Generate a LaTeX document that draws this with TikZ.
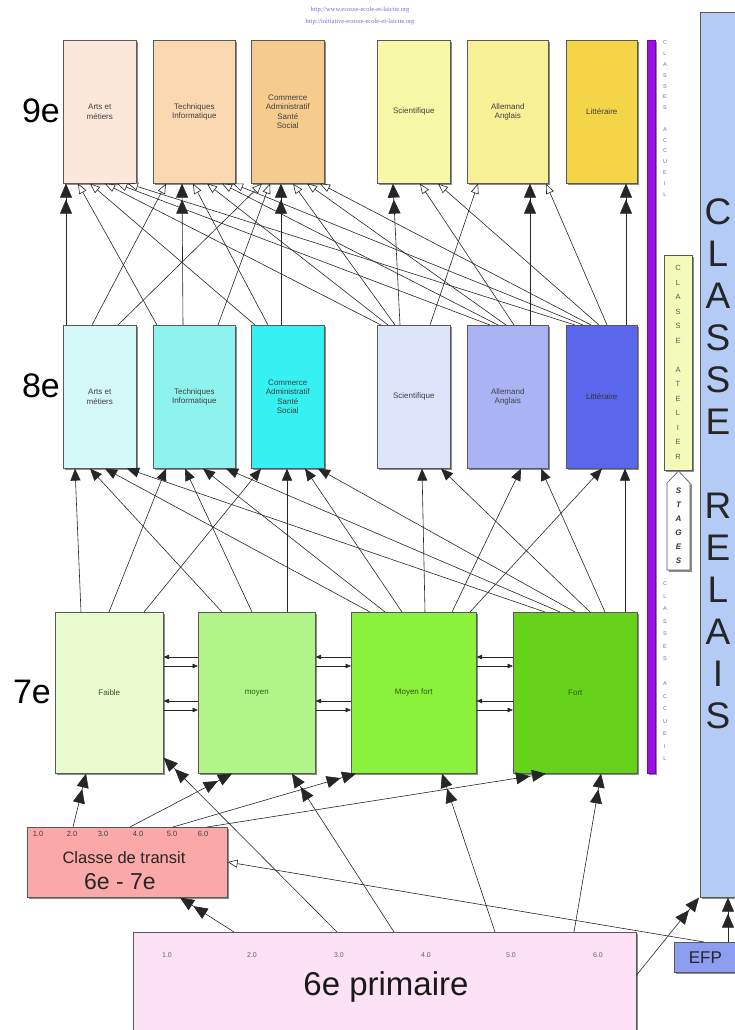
\documentclass[tikz,border=0pt]{standalone}
\usepackage{fontspec}
\setmainfont{Liberation Sans}
\newfontfamily\urlfont{Liberation Serif}
\usetikzlibrary{arrows.meta,calc,shadows}
\definecolor{cA9}{HTML}{FCE8DA}
\definecolor{cT9}{HTML}{FBD9B0}
\definecolor{cC9}{HTML}{F6CB8E}
\definecolor{cS9}{HTML}{F7F9A6}
\definecolor{cL9}{HTML}{F8F095}
\definecolor{cLi9}{HTML}{F4D547}
\definecolor{cA8}{HTML}{D5F8F8}
\definecolor{cT8}{HTML}{8EF2EE}
\definecolor{cC8}{HTML}{35F1F1}
\definecolor{cS8}{HTML}{DCE5F9}
\definecolor{cL8}{HTML}{AAB4F4}
\definecolor{cLi8}{HTML}{5A66EC}
\definecolor{cFa}{HTML}{EAFBD0}
\definecolor{cMo}{HTML}{B1F58A}
\definecolor{cMF}{HTML}{8BF23C}
\definecolor{cFo}{HTML}{66D31A}
\definecolor{cTr}{HTML}{FBA8A8}
\definecolor{cP6}{HTML}{FDE2F6}
\definecolor{cEFP}{HTML}{8D9EF1}
\definecolor{cRel}{HTML}{B4CBF5}
\definecolor{cAt}{HTML}{F4FABA}
\definecolor{cPur}{HTML}{9A10E6}
\definecolor{cGreenTxt}{HTML}{2E5A12}
\definecolor{cUrl}{HTML}{6E6ED8}
\begin{document}
\begin{tikzpicture}[x=1pt,y=-1pt,
  every node/.style={inner sep=0pt},
  box/.style={draw=black!65, line width=0.6pt, anchor=north west, align=center,
    font=\fontsize{8}{9.2}\selectfont, text=black!75,
    drop shadow={shadow xshift=1.8pt, shadow yshift=-1.8pt, opacity=0.45, fill=black}},
  wh/.style 2 args={minimum width=#1pt, minimum height=#2pt},
  conn/.style={draw=black!85, line width=0.6pt},
  dbl/.style={conn, -{Triangle[length=14pt,width=12pt,sep=2pt]Triangle[length=14pt,width=12pt]}},
  sgl/.style={conn, -{Triangle[length=12pt,width=10pt]}},
  opn/.style={conn, -{Triangle[open,fill=white,length=10pt,width=8pt]}},
  sml/.style={conn, -{Triangle[length=5.5pt,width=4.5pt]}},
  rowlab/.style={font=\fontsize{34}{34}\selectfont},
  tinylet/.style={font=\fontsize{5.5}{5.5}\selectfont, text=black!55},
  atlet/.style={font=\fontsize{7.5}{7.5}\selectfont, text=black!65},
  stlet/.style={font=\fontsize{8}{8}\selectfont\bfseries\itshape, text=black!80},
  numlab/.style={font=\fontsize{7}{7}\selectfont, text=black!60},
  bignum/.style={font=\fontsize{7.5}{7.5}\selectfont, text=black!75},
  rellet/.style={font=\fontsize{37}{37}\selectfont, text=black!85},
  urlsty/.style={font=\urlfont\fontsize{6.5}{6.5}\selectfont, text=cUrl},
]
\useasboundingbox (0,0) rectangle (735,1030);
\clip (0,0) rectangle (735,1030);

% URLs
\node[urlsty] (url1) at (360,10) {http://www.ecosse-ecole-et-laicite.org};
\node[urlsty] (url2) at (360,22) {http://initiative-ecosse-ecole-et-laicite.org};

% row labels
\node[rowlab] (r9) at (41,111) {9e};
\node[rowlab] (r8) at (41,386) {8e};
\node[rowlab] (r7) at (32,692) {7e};

% 9e
\node[box, wh={73}{143}, fill=cA9] (A9) at (63,40) {Arts et\\métiers};
\node[box, wh={82}{143}, fill=cT9] (T9) at (153,40) {Techniques\\Informatique};
\node[box, wh={73}{143}, fill=cC9] (C9) at (251,40) {Commerce\\Administratif\\Santé\\Social};
\node[box, wh={73}{143}, fill=cS9] (S9) at (377,40) {Scientifique};
\node[box, wh={81}{143}, fill=cL9] (L9) at (467,40) {Allemand\\Anglais};
\node[box, wh={71}{143}, fill=cLi9] (Li9) at (566,40) {Littéraire};

% 8e
\node[box, wh={73}{143}, fill=cA8] (A8) at (63,325) {Arts et\\métiers};
\node[box, wh={82}{143}, fill=cT8] (T8) at (153,325) {Techniques\\Informatique};
\node[box, wh={73}{143}, fill=cC8] (C8) at (251,325) {Commerce\\Administratif\\Santé\\Social};
\node[box, wh={73}{143}, fill=cS8] (S8) at (377,325) {Scientifique};
\node[box, wh={81}{143}, fill=cL8] (L8) at (467,325) {Allemand\\Anglais};
\node[box, wh={71}{143}, fill=cLi8, text=black!80] (Li8) at (566,325) {Littéraire};

% 7e
\node[box, wh={108}{161}, fill=cFa, text=cGreenTxt] (Fa) at (55,612) {Faible};
\node[box, wh={117}{161}, fill=cMo, text=cGreenTxt] (Mo) at (198,612) {moyen};
\node[box, wh={125}{161}, fill=cMF, text=cGreenTxt] (MF) at (351,612) {Moyen fort};
\node[box, wh={124}{161}, fill=cFo, text=cGreenTxt] (Fo) at (513,612) {Fort};

% transit
\node[box, wh={200}{70}, fill=cTr] (Tr) at (27,827) {};
\foreach \v [count=\i] in {38,72,103,138,172,203}
  \node[bignum] (tn\i) at (\v,834) {\i.0};
\node[font=\fontsize{16.5}{16.5}\selectfont, text=black!85] (trt) at (124,858) {Classe de transit};
\node[font=\fontsize{23}{23}\selectfont, text=black!85] (trt2) at (120,882) {6e - 7e};

% 6e primaire
\node[box, wh={503}{115}, fill=cP6] (P6) at (133,932) {};
\foreach \v [count=\i] in {167,252,339,426,511,598}
  \node[numlab] (pn\i) at (\v,955) {\i.0};
\node[font=\fontsize{33}{33}\selectfont, text=black!90] (p6t) at (386,987) {6e primaire};

% EFP
\node[box, wh={62}{30}, fill=cEFP, font=\fontsize{17}{17}\selectfont, text=black!85] (EFP) at (674,942) {EFP};

% Classe relais
\node[box, wh={50}{885}, fill=cRel] (Rel) at (700,12) {};
\foreach \l [count=\i] in {C,L,A,S,S,E,{},R,E,L,A,I,S}
  \node[rellet] (rl\i) at (718,{212+42*(\i-1)}) {\l};

% purple bar
\node[box, wh={8}{733}, fill=cPur, draw=cPur!70!black] (bar) at (647,40) {};

% classes accueil letters
\foreach \l [count=\i] in {C,L,A,S,S,E,S,{},A,C,C,U,E,I,L}
  \node[tinylet] (cu\i) at (665,{43+10.8*(\i-1)}) {\l};
\foreach \l [count=\i] in {C,L,A,S,S,E,S,{},A,C,C,U,E,I,L}
  \node[tinylet] (cl\i) at (665,{584+12.5*(\i-1)}) {\l};

% classe atelier
\node[box, wh={28}{215}, fill=cAt] (At) at (664,255) {};
\foreach \l [count=\i] in {C,L,A,S,S,E,{},A,T,E,L,I,E,R}
  \node[atlet] (al\i) at (678,{268+14.5*(\i-1)}) {\l};

% stages
\draw[draw=black!65, fill=white, line width=0.6pt,
  drop shadow={shadow xshift=1.8pt, shadow yshift=-1.8pt, opacity=0.45, fill=black}]
  (667,570) -- (667,483) -- (678.5,471) -- (690,483) -- (690,570) -- cycle;
\foreach \l [count=\i] in {S,T,A,G,E,S}
  \node[stlet] (sl\i) at (678.5,{491+14*(\i-1)}) {\l};

% ---------- 8e -> 9e ----------
\foreach \s/\a/\t/\b in {A8/3/A9/3, T8/30/T9/29, C8/30/C9/30, S8/23/S9/16, L8/63/L9/63, Li8/60/Li9/60}
  \draw[dbl] ($(\s.north west)+(\a,0)$) -- ($(\t.south west)+(\b,0)$);
\foreach \s/\a/\t/\b in {A8/29/T9/13, A8/55/C9/11, T8/4/A9/15, T8/65/C9/19, C8/4/A9/27, C8/17/T9/40,
  S8/4/A9/42, S8/11/T9/54, S8/18/C9/42, S8/53/L9/11,
  L8/23/A9/54, L8/31/T9/69, L8/39/C9/56, L8/47/S9/43,
  Li8/9/A9/65, Li8/17/T9/80, Li8/25/C9/69, Li8/33/S9/61, Li8/41/L9/79}
  \draw[opn] ($(\s.north west)+(\a,0)$) -- ($(\t.south west)+(\b,0)$);

% ---------- 7e -> 8e ----------
\foreach \s/\a/\t/\b in {Fa/26/A8/12, Fa/54/T8/13, Fa/89/C8/10,
  Mo/24/A8/27, Mo/54/T8/32, Mo/89/C8/36,
  MF/19/A8/42, MF/34/T8/50, MF/51/C8/54, MF/74/S8/45, MF/101/L8/54, MF/119/Li8/36,
  Fo/32/A8/64, Fo/47/T8/73, Fo/62/C8/67, Fo/77/S8/64, Fo/92/L8/74, Fo/112/Li8/59}
  \draw[sgl] ($(\s.north west)+(\a,0)$) -- ($(\t.south west)+(\b,0)$);

% ---------- 7e horizontal ----------
\foreach \l/\r in {Fa/Mo, Mo/MF, MF/Fo} {
  \draw[sml] ($(\r.north west)+(0,45)$) -- ($(\l.north east)+(0,45)$);
  \draw[sml] ($(\l.north east)+(0,54)$) -- ($(\r.north west)+(0,54)$);
  \draw[sml] ($(\r.north west)+(0,89)$) -- ($(\l.north east)+(0,89)$);
  \draw[sml] ($(\l.north east)+(0,98)$) -- ($(\r.north west)+(0,98)$);
}

% ---------- transit -> 7e ----------
\foreach \a/\t/\b in {46/Fa/31, 103/Mo/34, 146/MF/5, 180/Fo/33}
  \draw[dbl] ($(Tr.north west)+(\a,0)$) -- ($(\t.south west)+(\b,0)$);

% ---------- 6e -> ----------
\draw[dbl] ($(P6.north west)+(101,0)$) -- ($(Tr.south west)+(153,0)$);
\draw[dbl] ($(P6.north west)+(204,0)$) -- ($(Fa.south east)+(0,-16)$);
\foreach \a/\t/\b in {261/Mo/94, 362/MF/91, 441/Fo/88}
  \draw[dbl] ($(P6.north west)+(\a,0)$) -- ($(\t.south west)+(\b,0)$);
\draw[dbl] ($(P6.north east)+(0,43)$) -- ($(Rel.south west)+(-1,0)$);
\draw[dbl] ($(EFP.north west)+(54,0)$) -- ($(Rel.south west)+(28,0)$);
\draw[opn] ($(EFP.north west)+(30,0)$) -- ($(Tr.north east)+(0,35)$);
\end{tikzpicture}
\end{document}
